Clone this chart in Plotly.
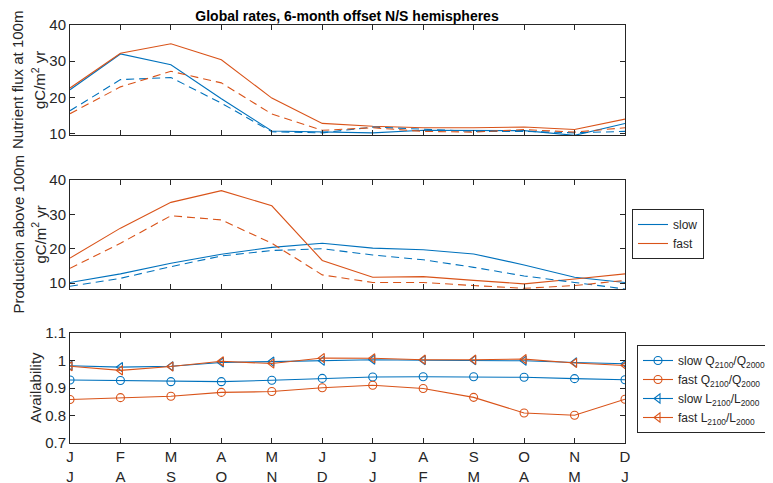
import plotly.graph_objects as go

months = list(range(1, 13))
north_labels = ["J", "F", "M", "A", "M", "J", "J", "A", "S", "O", "N", "D"]
south_labels = ["J", "A", "S", "O", "N", "D", "J", "F", "M", "A", "M", "J"]

# Panel 1: Nutrient flux at 100m (gC/m2 yr)
flux_slow = [22.1, 32.0, 29.0, 19.6, 10.7, 10.5, 10.2, 10.9, 10.9, 10.8, 9.5, 12.8]
flux_fast = [22.6, 32.2, 34.8, 30.4, 19.8, 12.8, 12.0, 11.6, 11.6, 11.8, 11.1, 14.0]
flux_slow_d = [16.3, 24.9, 25.5, 18.4, 10.5, 10.2, 11.8, 11.1, 10.6, 10.6, 10.2, 10.6]
flux_fast_d = [15.5, 22.9, 27.2, 24.0, 15.4, 10.9, 11.6, 10.6, 10.4, 11.1, 10.4, 11.6]

# Panel 2: Production above 100m (gC/m2 yr)
prod_slow = [10.2, 12.7, 15.8, 18.4, 20.4, 21.6, 20.2, 19.7, 18.5, 15.3, 11.7, 10.2]
prod_fast = [17.3, 26.0, 33.5, 36.9, 32.5, 16.6, 11.7, 11.9, 10.8, 9.8, 11.2, 12.7]
prod_slow_d = [9.1, 11.4, 14.8, 17.9, 19.5, 20.0, 18.2, 16.8, 14.6, 12.1, 10.2, 8.3]
prod_fast_d = [14.3, 21.6, 29.6, 28.4, 21.6, 12.4, 10.2, 10.2, 9.3, 8.5, 9.3, 10.8]

# Panel 3: Availability ratios
slow_Q = [0.929, 0.927, 0.923, 0.923, 0.928, 0.935, 0.940, 0.941, 0.941, 0.939, 0.934, 0.930]
fast_Q = [0.858, 0.865, 0.870, 0.884, 0.887, 0.901, 0.910, 0.898, 0.866, 0.809, 0.801, 0.859]
slow_L = [0.981, 0.976, 0.979, 0.993, 0.996, 0.999, 1.003, 1.001, 1.001, 0.999, 0.993, 0.988]
fast_L = [0.979, 0.964, 0.978, 0.997, 0.989, 1.009, 1.008, 1.003, 1.003, 1.005, 0.991, 0.982]

BLUE = "#0072BD"
ORANGE = "#D95319"
AX = "#262626"
FONT = "Liberation Sans, Arial, sans-serif"
DASH = "8px,5px"

fig = go.Figure()

def line(x, y, color, dash, xa, ya, name=None, legend=None, show=False, mode="lines", symbol=None):
    fig.add_trace(go.Scatter(
        x=x, y=y, mode=mode, name=name, showlegend=show,
        legend=legend, xaxis=xa, yaxis=ya,
        line=dict(color=color, width=1.1, dash=dash),
        marker=dict(symbol=symbol, size=8, color=color, line=dict(color=color, width=1.1)) if symbol else None,
    ))

# top panel
line(months, flux_slow, BLUE, "solid", "x", "y")
line(months, flux_fast, ORANGE, "solid", "x", "y")
line(months, flux_slow_d, BLUE, DASH, "x", "y")
line(months, flux_fast_d, ORANGE, DASH, "x", "y")

# middle panel
line(months, prod_slow, BLUE, "solid", "x2", "y2", name="slow", legend="legend", show=True)
line(months, prod_fast, ORANGE, "solid", "x2", "y2", name="fast", legend="legend", show=True)
line(months, prod_slow_d, BLUE, DASH, "x2", "y2")
line(months, prod_fast_d, ORANGE, DASH, "x2", "y2")

# bottom panel
line(months, slow_Q, BLUE, "solid", "x3", "y3", name="slow Q<sub>2100</sub>/Q<sub>2000</sub>",
     legend="legend2", show=True, mode="lines+markers", symbol="circle-open")
line(months, fast_Q, ORANGE, "solid", "x3", "y3", name="fast Q<sub>2100</sub>/Q<sub>2000</sub>",
     legend="legend2", show=True, mode="lines+markers", symbol="circle-open")
line(months, slow_L, BLUE, "solid", "x3", "y3", name="slow L<sub>2100</sub>/L<sub>2000</sub>",
     legend="legend2", show=True, mode="lines+markers", symbol="triangle-left-open")
line(months, fast_L, ORANGE, "solid", "x3", "y3", name="fast L<sub>2100</sub>/L<sub>2000</sub>",
     legend="legend2", show=True, mode="lines+markers", symbol="triangle-left-open")

# page has an 8px body margin; figure coordinates = page coordinates - 8
OFF = 8
W, H = 773 - OFF, 483 - OFF
ML, MR, MT, MB = 70 - OFF, 773 - 625, 25 - OFF, 483 - 443
PW = W - ML - MR
PH = H - MT - MB

def dom(top_px, bot_px):
    # page pixel coordinates -> paper fraction
    return [(H - MB - (bot_px - OFF)) / PH, (H - MB - (top_px - OFF)) / PH]

def px_x(px):
    return (px - OFF - ML) / PW

def px_y(py):
    return (H - MB - (py - OFF)) / PH

TICKF = dict(family=FONT, size=15, color=AX)
common_x = dict(range=[1, 12], showline=True, linecolor=AX, linewidth=1, mirror="ticks",
                ticks="inside", ticklen=5, tickcolor=AX, tickvals=months, showgrid=False,
                zeroline=False, tickfont=TICKF, automargin=False)
common_y = dict(showline=True, linecolor=AX, linewidth=1, mirror="ticks",
                ticks="inside", ticklen=5, tickcolor=AX, showgrid=False, zeroline=False,
                tickfont=TICKF, automargin=False)

bottom_text = [f"{a}<br>{b}" for a, b in zip(north_labels, south_labels)]

fig.update_layout(
    width=W, height=H,
    margin=dict(l=ML, r=MR, t=MT, b=MB, autoexpand=False),
    paper_bgcolor="white", plot_bgcolor="white",
    font=dict(family=FONT, size=13, color=AX),
    xaxis=dict(common_x, domain=[0, 1], anchor="y", showticklabels=False),
    yaxis=dict(common_y, domain=dom(25, 135), range=[9.6, 40], tickvals=[10, 20, 30, 40], anchor="x"),
    xaxis2=dict(common_x, domain=[0, 1], anchor="y2", showticklabels=False),
    yaxis2=dict(common_y, domain=dom(180, 289), range=[8.3, 40], tickvals=[10, 20, 30, 40], anchor="x2"),
    xaxis3=dict(common_x, domain=[0, 1], anchor="y3", ticktext=bottom_text),
    yaxis3=dict(common_y, domain=dom(333, 443), range=[0.7, 1.1],
                tickvals=[0.7, 0.8, 0.9, 1.0, 1.1], ticktext=["0.7", "0.8", "0.9", "1", "1.1"], anchor="x3"),
    legend=dict(x=px_x(632), y=px_y(209), xanchor="left", yanchor="top",
                bordercolor=AX, borderwidth=1, bgcolor="white",
                font=dict(family=FONT, size=12, color=AX), itemwidth=30, tracegroupgap=0),
    legend2=dict(x=px_x(637), y=px_y(345), xanchor="left", yanchor="top",
                 bordercolor=AX, borderwidth=1, bgcolor="white",
                 font=dict(family=FONT, size=12, color=AX), itemwidth=30, tracegroupgap=0),
    showlegend=True,
    title=dict(text="<b>Global rates, 6-month offset N/S hemispheres</b>",
               x=(347 - OFF) / W, xanchor="center", y=1 - (16 - OFF) / H, yanchor="middle",
               font=dict(family=FONT, size=14, color="black")),
)

def vlabel(text, xpx, ycen):
    fig.add_annotation(text=text, textangle=-90, xref="paper", yref="paper",
                       x=px_x(xpx), y=ycen, xanchor="center", yanchor="middle",
                       showarrow=False, font=dict(family=FONT, size=15, color=AX))

vlabel("Nutrient flux at 100m", 18, sum(dom(25, 135)) / 2)
vlabel("gC/m<sup>2</sup> yr", 39, sum(dom(25, 135)) / 2)
vlabel("Production above 100m", 18, sum(dom(180, 289)) / 2)
vlabel("gC/m<sup>2</sup> yr", 39, sum(dom(180, 289)) / 2)
vlabel("Availability", 35, sum(dom(333, 443)) / 2)

fig.write_html("out.html")
